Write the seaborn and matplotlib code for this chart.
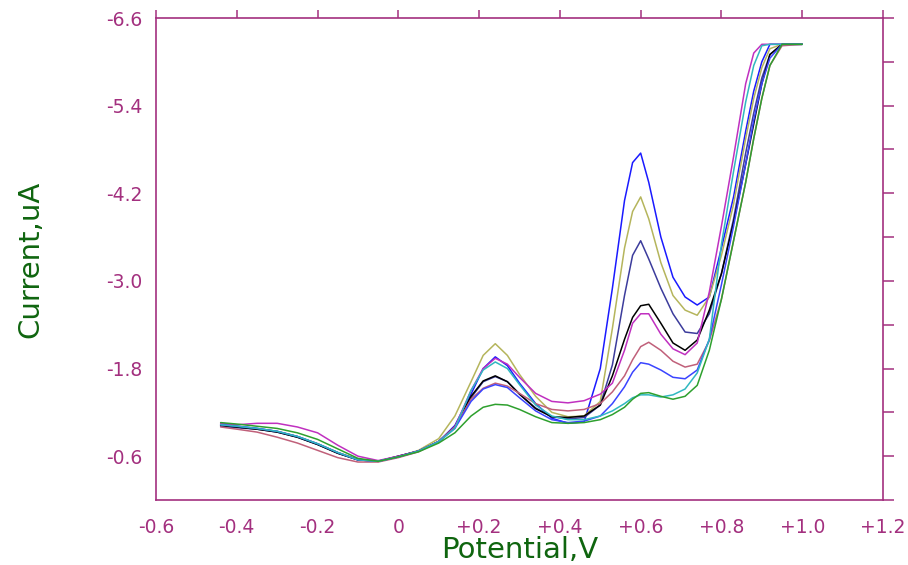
import numpy as np
import pandas as pd
import matplotlib
matplotlib.use("Agg")
import matplotlib.pyplot as plt
import seaborn as sns

# Potential (V) sample points shared by all scans
potential = [-0.44, -0.40, -0.35, -0.30, -0.25, -0.20, -0.15, -0.10, -0.05, 0.00,
             0.05, 0.10, 0.14, 0.18, 0.21, 0.24, 0.27, 0.30, 0.34, 0.38,
             0.42, 0.46, 0.50, 0.53, 0.56, 0.58, 0.60, 0.62, 0.65, 0.68,
             0.71, 0.74, 0.77, 0.80, 0.83, 0.86, 0.88, 0.90, 0.92, 0.95, 1.00]

# Current (uA), one list per scan
blue1 = [-1.04, -1.01, -0.98, -0.94, -0.87, -0.77, -0.65, -0.55, -0.53, -0.59,
         -0.67, -0.80, -1.02, -1.45, -1.80, -1.96, -1.84, -1.60, -1.32, -1.12,
         -1.05, -1.07, -1.80, -2.90, -4.10, -4.62, -4.75, -4.35, -3.60, -3.05,
         -2.78, -2.67, -2.78, -3.45, -4.15, -5.05, -5.60, -6.00, -6.24, -6.24, -6.24]
olive = [-1.02, -1.00, -0.97, -0.94, -0.87, -0.77, -0.65, -0.56, -0.53, -0.59,
         -0.68, -0.84, -1.15, -1.62, -1.98, -2.14, -1.98, -1.72, -1.42, -1.20,
         -1.14, -1.15, -1.35, -2.35, -3.45, -3.95, -4.15, -3.85, -3.25, -2.80,
         -2.60, -2.53, -2.78, -3.35, -4.05, -4.95, -5.50, -5.92, -6.18, -6.24, -6.24]
navy = [-1.01, -0.99, -0.97, -0.93, -0.86, -0.76, -0.64, -0.55, -0.53, -0.60,
        -0.67, -0.80, -1.00, -1.40, -1.62, -1.69, -1.62, -1.45, -1.26, -1.14,
        -1.11, -1.13, -1.30, -1.85, -2.80, -3.35, -3.55, -3.30, -2.90, -2.55,
        -2.30, -2.28, -2.55, -3.10, -3.85, -4.75, -5.30, -5.78, -6.10, -6.24, -6.24]
black = [-1.02, -1.00, -0.97, -0.93, -0.86, -0.76, -0.64, -0.55, -0.53, -0.60,
         -0.67, -0.80, -1.00, -1.42, -1.63, -1.70, -1.62, -1.45, -1.25, -1.14,
         -1.13, -1.15, -1.30, -1.70, -2.20, -2.50, -2.66, -2.68, -2.42, -2.15,
         -2.05, -2.19, -2.60, -3.10, -3.80, -4.60, -5.15, -5.70, -6.10, -6.24, -6.24]
magenta = [-1.05, -1.03, -1.05, -1.05, -1.00, -0.92, -0.75, -0.60, -0.54, -0.60,
           -0.67, -0.80, -1.00, -1.50, -1.80, -1.94, -1.86, -1.68, -1.46, -1.35,
           -1.33, -1.36, -1.45, -1.60, -2.05, -2.42, -2.55, -2.55, -2.27, -2.07,
           -1.99, -2.15, -2.85, -3.75, -4.70, -5.70, -6.12, -6.24, -6.24, -6.24, -6.24]
rosy = [-1.00, -0.97, -0.93, -0.86, -0.78, -0.68, -0.58, -0.52, -0.52, -0.58,
        -0.66, -0.80, -1.00, -1.38, -1.53, -1.60, -1.56, -1.46, -1.32, -1.24,
        -1.22, -1.24, -1.32, -1.48, -1.70, -1.92, -2.10, -2.16, -2.05, -1.90,
        -1.82, -1.86, -2.18, -2.75, -3.55, -4.35, -4.95, -5.50, -5.95, -6.22, -6.24]
blue2 = [-1.03, -1.01, -0.98, -0.94, -0.87, -0.77, -0.65, -0.55, -0.53, -0.59,
         -0.67, -0.80, -0.98, -1.35, -1.52, -1.58, -1.54, -1.40, -1.22, -1.10,
         -1.06, -1.08, -1.15, -1.32, -1.55, -1.75, -1.88, -1.86, -1.78, -1.68,
         -1.66, -1.78, -2.20, -2.95, -3.75, -4.60, -5.20, -5.70, -6.05, -6.24, -6.24]
cyan = [-1.03, -1.01, -0.98, -0.94, -0.87, -0.77, -0.65, -0.55, -0.53, -0.59,
        -0.67, -0.80, -0.98, -1.50, -1.78, -1.89, -1.80, -1.58, -1.30, -1.15,
        -1.10, -1.10, -1.15, -1.22, -1.32, -1.40, -1.44, -1.44, -1.41, -1.44,
        -1.52, -1.74, -2.20, -3.50, -4.50, -5.45, -5.95, -6.22, -6.24, -6.24, -6.24]
green = [-1.06, -1.04, -1.01, -0.98, -0.92, -0.83, -0.70, -0.57, -0.53, -0.59,
         -0.66, -0.78, -0.92, -1.15, -1.27, -1.31, -1.30, -1.24, -1.14, -1.06,
         -1.05, -1.06, -1.10, -1.17, -1.27, -1.38, -1.46, -1.47, -1.42, -1.38,
         -1.42, -1.57, -2.05, -2.75, -3.55, -4.35, -4.95, -5.50, -5.95, -6.24, -6.24]

series_names = ["blue1", "olive", "navy", "black", "magenta", "rosy", "blue2", "cyan", "green"]
series_values = [blue1, olive, navy, black, magenta, rosy, blue2, cyan, green]
series_colors = ["#1a1aff", "#b5b55c", "#3c3c9c", "#000000", "#c030c0",
                 "#c0607a", "#3a44ff", "#30b8c0", "#2ea02e"]

x_ticks = [-0.6, -0.4, -0.2, 0.0, 0.2, 0.4, 0.6, 0.8, 1.0, 1.2]
x_ticklabels = ["-0.6", "-0.4", "-0.2", "0", "+0.2", "+0.4", "+0.6", "+0.8", "+1.0", "+1.2"]
y_ticks = [0.0, -0.6, -1.2, -1.8, -2.4, -3.0, -3.6, -4.2, -4.8, -5.4, -6.0, -6.6]
y_ticklabels = ["", "-0.6", "", "-1.8", "", "-3.0", "", "-4.2", "", "-5.4", "", "-6.6"]

frames = []
for name, vals in zip(series_names, series_values):
    frames.append(pd.DataFrame({"Potential": potential, "Current": vals, "scan": name}))
df = pd.concat(frames, ignore_index=True)

sns.set_style("white")
plt.rcParams["font.family"] = ["DejaVu Sans"]

purple = "#a3307f"
green_txt = "#0f650f"

fig = plt.figure(figsize=(9.08, 5.65), dpi=100)
ax = fig.add_axes([156 / 908, 1 - 500 / 565, (883 - 156) / 908, (500 - 18) / 565])

sns.lineplot(data=df, x="Potential", y="Current", hue="scan", hue_order=series_names,
             palette=series_colors, estimator=None, sort=False, linewidth=1.1,
             legend=False, ax=ax)

ax.set_xlim(-0.6, 1.2)
ax.set_ylim(0.0, -6.6)

ax.set_xticks(x_ticks)
ax.set_xticklabels(x_ticklabels)
ax.set_yticks(y_ticks)
ax.set_yticklabels(y_ticklabels)

for sp in ax.spines.values():
    sp.set_visible(True)
    sp.set_color(purple)
    sp.set_linewidth(1.2)

ax.tick_params(axis="x", which="major", direction="out", length=6, width=1.1,
               color=purple, labelcolor=purple, labelsize=13.5, pad=7,
               top=True, labeltop=False)
ax.tick_params(axis="y", which="major", direction="out", length=8, width=1.1,
               color=purple, labelcolor=purple, labelsize=13.5, pad=2,
               right=True, labelright=False)

ax.set_xlabel("Potential,V", color=green_txt, fontsize=21)
ax.set_ylabel("Current,uA", color=green_txt, fontsize=21)
ax.xaxis.set_label_coords(0.5, -0.074)
ax.yaxis.set_label_coords(-0.154, 0.5)
ax.grid(False)

fig.savefig("out.png", dpi=100, facecolor="white")
